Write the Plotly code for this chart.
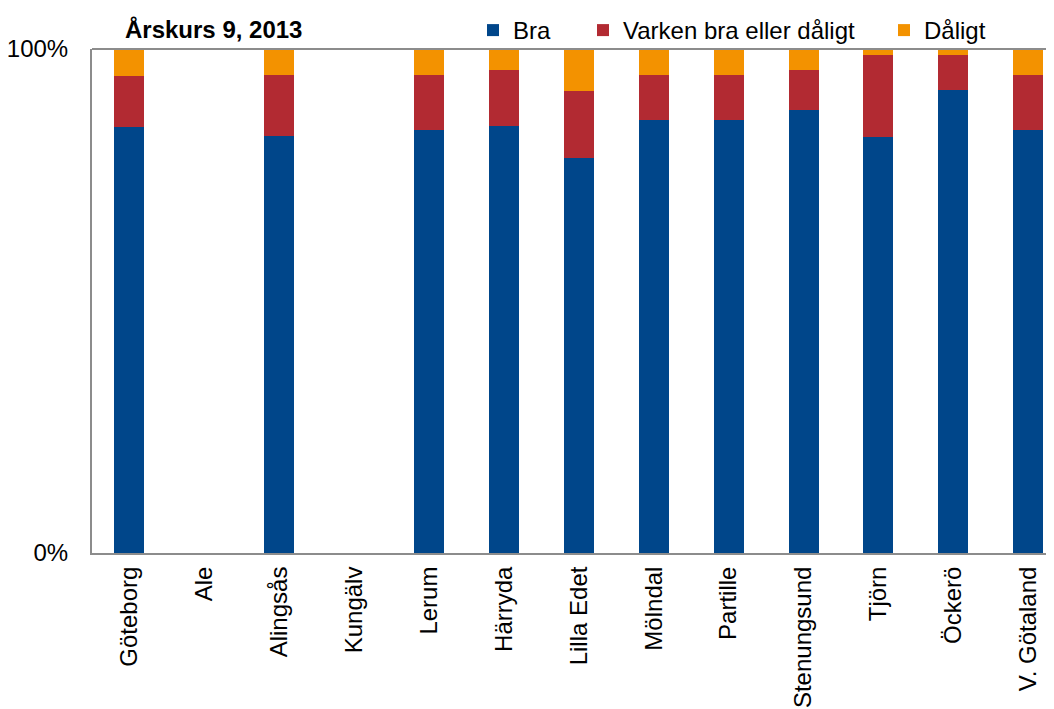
import plotly.graph_objects as go

categories = ["Göteborg", "Ale", "Alingsås", "Kungälv", "Lerum", "Härryda", "Lilla Edet",
              "Mölndal", "Partille", "Stenungsund", "Tjörn", "Öckerö", "V. Götaland"]
bra = [84.6, None, 82.7, None, 83.9, 84.7, 78.4, 85.9, 85.9, 87.8, 82.5, 91.9, 83.9]
varken = [10.1, None, 12.2, None, 11.0, 11.2, 13.3, 9.0, 9.0, 8.1, 16.4, 7.0, 11.0]
daligt = [5.3, None, 5.1, None, 5.1, 4.1, 8.3, 5.1, 5.1, 4.1, 1.1, 1.1, 5.1]

series_names = ["Bra", "Varken bra eller dåligt", "Dåligt"]
colors = ["#00468A", "#B22A32", "#F39200"]
title_text = "Årskurs 9, 2013"

# page body has an 8px margin; the figure is placed at (8, 8)
OFF = 8
W, H = 1054 - OFF, 709 - OFF
ML, MT, MB, MR = 92 - OFF, 46 - OFF, 156, 0
plot_w = W - ML - MR
plot_h = H - MT - MB
FONT = "Liberation Sans, Arial, sans-serif"
FS = 24

x_idx = list(range(len(categories)))
fig = go.Figure()
legend_ids = ["legend", "legend2", "legend3"]
for vals, name, col, lg in zip([bra, varken, daligt], series_names, colors, legend_ids):
    fig.add_trace(go.Bar(x=x_idx, y=vals, name=name, marker=dict(color=col, line=dict(width=0)),
                         width=0.4, legend=lg))

# legend item origins in page pixels (left)
origins = [473, 583, 884]
leg_common = dict(orientation="h", xanchor="left", yanchor="middle", bgcolor="rgba(0,0,0,0)",
                  borderwidth=0, font=dict(family=FONT, size=FS, color="#000000"),
                  itemsizing="constant", itemwidth=30)
legends = {}
for lg, ox in zip(legend_ids, origins):
    legends[lg] = dict(leg_common, x=(ox - 92) / plot_w, y=1 + (46 - 27) / plot_h)

fig.update_layout(
    width=W, height=H,
    margin=dict(l=ML, r=MR, t=MT, b=MB, pad=0),
    paper_bgcolor="white", plot_bgcolor="white",
    barmode="stack", bargap=0.6,
    font=dict(family=FONT, size=FS, color="#000000"),
    showlegend=True,
    **legends,
    xaxis=dict(range=[-0.5, -0.5 + plot_w / 74.9], tickmode="array", tickvals=x_idx,
               ticktext=categories, tickangle=-90, showline=True, linecolor="#8C8C8C",
               linewidth=2, showgrid=False, zeroline=False, ticks="", ticklabelstandoff=2,
               tickfont=dict(family=FONT, size=FS, color="#000000")),
    yaxis=dict(range=[0, 100], tickmode="array", tickvals=[0, 100], ticktext=["0%", "100%"],
               showline=True, linecolor="#8C8C8C", linewidth=2, showgrid=False,
               zeroline=False, ticks="", ticklabelstandoff=17,
               tickfont=dict(family=FONT, size=FS, color="#000000")),
    shapes=[dict(type="line", xref="paper", yref="paper", x0=0, x1=1, y0=1, y1=1,
                 line=dict(color="#8C8C8C", width=2))],
    annotations=[dict(text="<b>" + title_text + "</b>", xref="paper", yref="paper",
                      x=(123 - 92) / plot_w, y=1 + (46 - 26) / plot_h,
                      xanchor="left", yanchor="middle", showarrow=False,
                      font=dict(family=FONT, size=FS, color="#000000"))],
)

fig.write_html("out.html")
